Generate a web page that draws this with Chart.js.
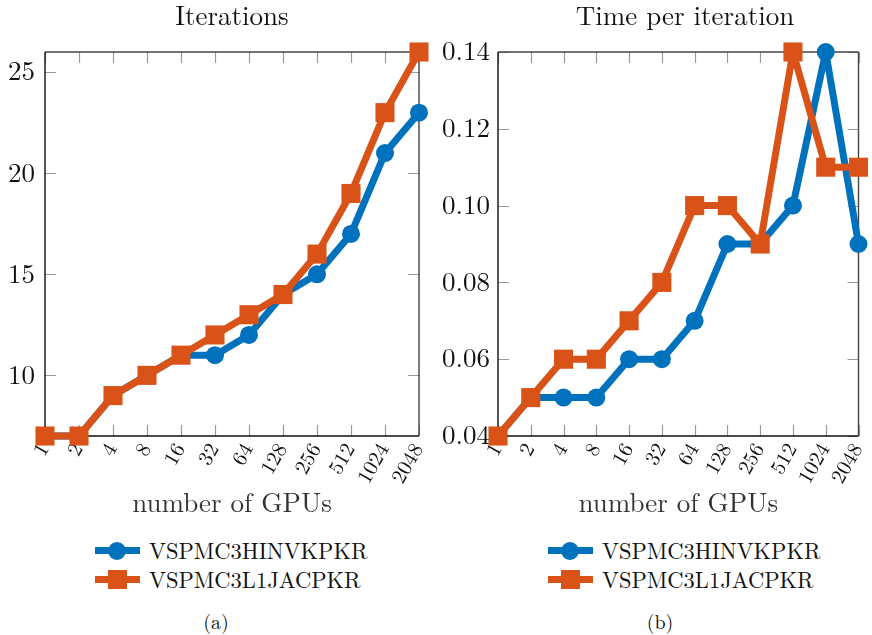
<!DOCTYPE html>
<html>
<head>
<meta charset="utf-8">
<script src="https://cdn.jsdelivr.net/npm/chart.js@4/dist/chart.umd.min.js"></script>
<style>
  html, body { margin: 0; padding: 0; background: #fff; width: 872px; height: 635px; overflow: hidden; position: relative; color: #111; }
  .wrap { position: absolute; top: 0; width: 436px; height: 520px; }
  .ttl { position: absolute; top: 1px; font-size: 27px; line-height: 27px; white-space: nowrap; transform: translateX(-50%); color: #111; }
  .legend { position: absolute; font-size: 22.5px; line-height: 29px; }
  .row { position: relative; height: 29px; white-space: nowrap; }
  .ln { position: absolute; top: 11px; width: 45px; height: 7px; }
  .mk { position: absolute; }
  .txt { position: absolute; left: 54px; top: 0; }
  .cap { position: absolute; font-size: 20px; top: 606px; transform: translateX(-50%); }
</style>
</head>
<body>
<div class="wrap" style="left:0"><canvas id="c1" width="436" height="520"></canvas></div>
<div class="wrap" style="left:436px"><canvas id="c2" width="436" height="520"></canvas></div>
<div class="ttl" style="left:232px">Iterations</div>
<div class="ttl" style="left:685px">Time per iteration</div>
<div class="legend" id="lg1" style="left:95px; top:536px"></div>
<div class="legend" id="lg2" style="left:548px; top:536px"></div>
<div class="cap" style="left:216px">(a)</div>
<div class="cap" style="left:660px">(b)</div>
<script>
const gpus = ['1','2','4','8','16','32','64','128','256','512','1024','2048'];
const seriesNames = ['VSPMC3HINVKPKR', 'VSPMC3L1JACPKR'];
const iterHinv  = [7, 7, 9, 10, 11, 11, 12, 14, 15, 17, 21, 23];
const iterL1jac = [7, 7, 9, 10, 11, 12, 13, 14, 16, 19, 23, 26];
const timeHinv  = [0.04, 0.05, 0.05, 0.05, 0.06, 0.06, 0.07, 0.09, 0.09, 0.10, 0.14, 0.09];
const timeL1jac = [0.04, 0.05, 0.06, 0.06, 0.07, 0.08, 0.10, 0.10, 0.09, 0.14, 0.11, 0.11];
const iterTicks = [10, 15, 20, 25];
const timeTicks = [0.04, 0.06, 0.08, 0.10, 0.12, 0.14];

const BLUE = '#0072BD', ORANGE = '#D95319';

function fontAvailable(name) {
  const c = document.createElement('canvas').getContext('2d');
  const s = 'Iterations VSPMC3 0.14 mwWliAg';
  for (const base of ['monospace', 'sans-serif', 'serif']) {
    c.font = '40px ' + base; const w0 = c.measureText(s).width;
    c.font = '40px "' + name + '", ' + base; const w1 = c.measureText(s).width;
    if (Math.abs(w0 - w1) > 0.5) return true;
  }
  return false;
}
const candidates = ['Latin Modern Roman', 'CMU Serif', 'Liberation Serif', 'Times New Roman', 'Tinos',
  'Noto Serif', 'DejaVu Serif', 'FreeSerif', 'Nimbus Roman', 'TeX Gyre Termes', 'Times'];
let chosen = candidates.find(fontAvailable);
const FONT = chosen ? '"' + chosen + '", serif' : 'serif';
document.body.style.fontFamily = FONT;

const framePlugin = {
  id: 'frame',
  beforeDatasetsDraw(chart) {
    const {ctx, chartArea: a, scales: {x, y}} = chart;
    ctx.save();
    ctx.strokeStyle = '#9a9a9a';
    ctx.lineWidth = 1.2;
    const tl = 11;
    x.ticks.forEach((t, i) => {
      const px = Math.round(x.getPixelForTick(i)) + 0.5;
      ctx.beginPath();
      ctx.moveTo(px, a.top); ctx.lineTo(px, a.top + tl);
      ctx.moveTo(px, a.bottom); ctx.lineTo(px, a.bottom - tl);
      ctx.stroke();
    });
    y.ticks.forEach((t, i) => {
      const py = Math.round(y.getPixelForTick(i)) + 0.5;
      ctx.beginPath();
      ctx.moveTo(a.left, py); ctx.lineTo(a.left + tl, py);
      ctx.moveTo(a.right, py); ctx.lineTo(a.right - tl, py);
      ctx.stroke();
    });
    ctx.lineWidth = 1.4;
    ctx.strokeStyle = '#444';
    ctx.beginPath();
    ctx.moveTo(a.left, a.top); ctx.lineTo(a.right, a.top);
    ctx.moveTo(a.right, a.top); ctx.lineTo(a.right, a.bottom);
    ctx.stroke();
    ctx.strokeStyle = '#111';
    ctx.beginPath();
    ctx.moveTo(a.left, a.top); ctx.lineTo(a.left, a.bottom); ctx.lineTo(a.right, a.bottom);
    ctx.stroke();
    ctx.restore();
  }
};

function makeChart(id, blueData, orangeData, yMin, yMax, yTicks, yWidth, padRight, fmt, yPad) {
  return new Chart(document.getElementById(id), {
    type: 'line',
    data: {
      labels: gpus,
      datasets: [
        { label: seriesNames[0], data: blueData, borderColor: BLUE, backgroundColor: BLUE,
          borderWidth: 7, borderJoinStyle: 'round', pointStyle: 'circle', pointRadius: 9, pointBorderWidth: 0,
          pointBackgroundColor: BLUE, tension: 0, clip: false, order: 1 },
        { label: seriesNames[1], data: orangeData, borderColor: ORANGE, backgroundColor: ORANGE,
          borderWidth: 7, borderJoinStyle: 'round', pointStyle: 'rect', pointRadius: 13.5, pointBorderWidth: 0,
          pointBackgroundColor: ORANGE, tension: 0, clip: false, order: 0 }
      ]
    },
    options: {
      responsive: false,
      animation: false,
      events: [],
      layout: { padding: { left: 0, right: padRight, top: 52, bottom: 0 } },
      plugins: {
        legend: { display: false },
        tooltip: { enabled: false },
        title: { display: false }
      },
      scales: {
        x: {
          type: 'category',
          offset: false,
          grid: { display: false, drawTicks: false },
          border: { display: false },
          ticks: { autoSkip: false, minRotation: 60, maxRotation: 60, padding: 3, labelOffset: -1,
            color: '#111', font: { family: FONT, size: 21 } },
          title: { display: true, text: 'number of GPUs', color: '#333',
            font: { family: FONT, size: 27 }, padding: { top: 0, bottom: 0 } },
          afterFit(s) { s.height = 84; s.paddingRight = 0; s.paddingLeft = 0; }
        },
        y: {
          min: yMin, max: yMax,
          grid: { display: false, drawTicks: false },
          border: { display: false },
          afterBuildTicks(s) { s.ticks = yTicks.map(v => ({ value: v })); },
          ticks: { padding: yPad, color: '#111', font: { family: FONT, size: 27 },
            callback: fmt },
          afterFit(s) { s.width = yWidth; s.paddingTop = 0; s.paddingBottom = 0; }
        }
      }
    },
    plugins: [framePlugin]
  });
}

makeChart('c1', iterHinv, iterL1jac, 7, 26, iterTicks, 45, 17, v => String(v), 10);
makeChart('c2', timeHinv, timeL1jac, 0.04, 0.14, timeTicks, 62, 0, v => Number(v).toFixed(2), 8);

function buildLegend(el) {
  const colors = [BLUE, ORANGE];
  seriesNames.forEach((name, i) => {
    const row = document.createElement('div');
    row.className = 'row';
    const ln = document.createElement('div');
    ln.className = 'ln'; ln.style.background = colors[i];
    const mk = document.createElement('div');
    mk.className = 'mk'; mk.style.background = colors[i];
    if (i === 0) { mk.style.cssText += 'width:18px;height:18px;border-radius:50%;left:13px;top:5.5px;'; }
    else { mk.style.cssText += 'width:19px;height:19px;left:13px;top:5px;'; }
    const tx = document.createElement('span');
    tx.className = 'txt'; tx.textContent = name;
    row.appendChild(ln); row.appendChild(mk); row.appendChild(tx);
    el.appendChild(row);
  });
}
buildLegend(document.getElementById('lg1'));
buildLegend(document.getElementById('lg2'));
</script>
</body>
</html>
